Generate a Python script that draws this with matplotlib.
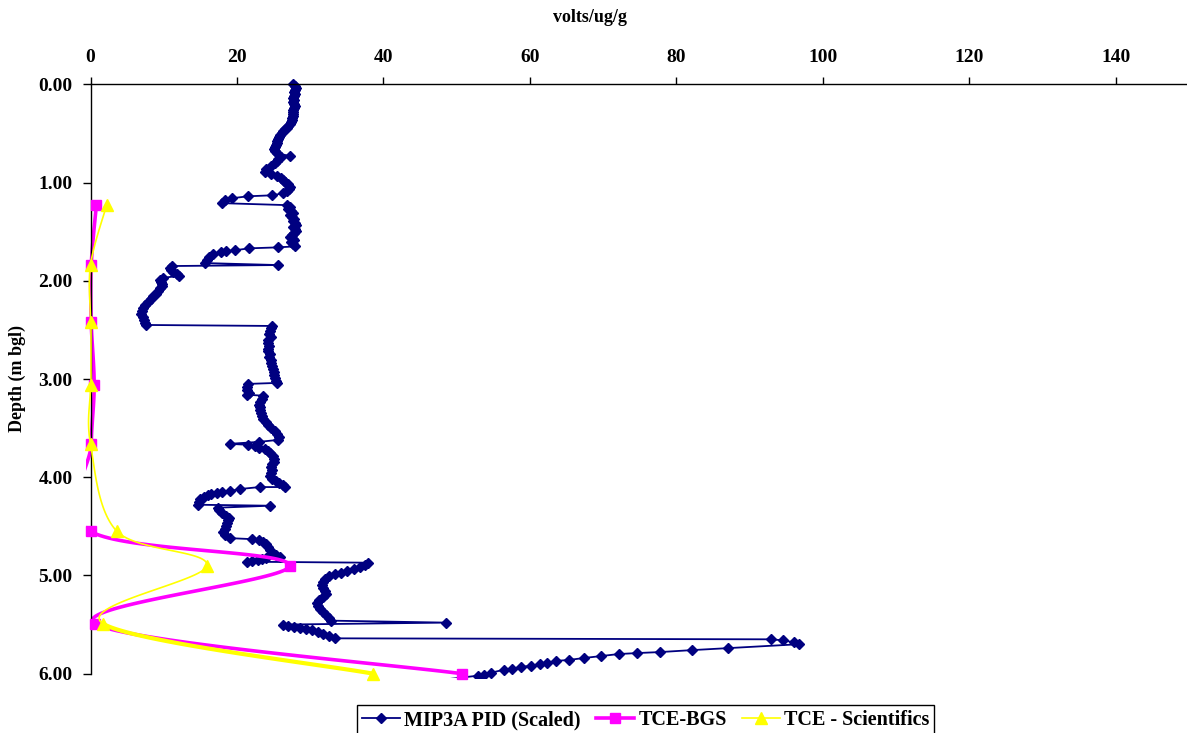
import numpy as np
import matplotlib
matplotlib.use("Agg")
import matplotlib.pyplot as plt
from matplotlib.lines import Line2D
from matplotlib.patches import Rectangle

# MIP3A PID trace (scaled) : value, depth (m bgl)
mip_value = [
    27.6, 27.9, 28.0, 27.9, 27.8, 27.9, 27.8, 27.7, 27.8, 27.7, 27.8, 27.9, 27.8, 27.7,
    27.6, 27.7, 27.6, 27.5, 27.5, 27.4, 27.2, 27.0, 26.8, 26.6, 26.3, 26.1, 25.9, 25.8,
    25.6, 25.5, 25.4, 25.3, 25.2, 25.1, 25.2, 25.4, 27.2, 26.0, 25.6, 25.5, 25.2, 24.7,
    24.0, 23.8, 24.6, 25.4, 26.0, 26.3, 26.6, 26.9, 27.0, 27.2, 27.1, 26.8, 26.3, 24.8,
    21.5, 19.3, 18.4, 18.0,
    26.8, 27.3, 27.0, 27.4, 27.6, 27.2, 27.5, 27.8, 27.6, 27.9, 28.0, 27.7, 27.9, 28.1,
    27.8, 27.5, 27.3, 27.6, 27.8, 27.4, 27.6, 27.9,
    25.6, 21.6, 19.7, 18.5, 17.8, 16.7, 16.2, 15.9, 15.7, 25.6,
    11.1, 10.8, 11.0, 11.3, 11.8, 12.1, 9.9, 9.5, 9.6, 9.8, 9.7, 9.5, 9.2, 9.0, 8.6, 8.3,
    7.9, 7.5, 7.2, 7.0, 6.9, 7.1, 7.3, 7.5, 7.6,
    24.8, 24.6, 24.5, 24.4, 24.6, 24.3, 24.2, 24.4, 24.2, 24.3, 24.5, 24.4, 24.6, 24.7,
    24.8, 24.9, 25.0, 25.1, 25.2, 25.3, 25.4,
    21.5, 21.3, 21.4, 21.6, 21.3,
    23.6, 23.4, 23.2, 23.0, 23.1, 23.2, 23.3, 23.4, 23.6, 23.9, 24.3, 24.7, 25.2, 25.5,
    25.8, 25.6, 23.0, 19.0, 21.5, 22.4, 23.0, 23.8,
    24.2, 24.5, 24.9, 25.1, 25.0, 24.8, 24.7, 24.8, 24.6, 24.5, 24.8, 25.3, 25.8, 26.3, 26.6,
    23.1, 20.4, 19.1, 17.9, 17.3, 16.5, 16.0, 15.5, 15.0, 14.8, 14.7, 24.5,
    17.4, 17.6, 18.0, 18.5, 18.9, 18.8, 18.6, 18.5, 18.3, 18.1, 18.4, 19.0,
    22.0, 23.0, 23.6, 23.9, 24.2, 24.5, 24.8, 25.3, 25.9,
    24.0, 23.4, 22.9, 22.0, 21.3,
    37.9, 37.5, 36.8, 36.0, 35.0, 34.2, 33.4, 32.6, 32.0, 31.7, 31.6, 31.8, 32.0, 32.1,
    31.8, 31.2, 30.9, 31.1, 31.4, 31.8, 32.1, 32.5, 32.9,
    48.5, 26.3, 27.0, 27.8, 28.6, 29.4, 30.2, 31.0, 31.8, 32.6, 33.4,
    92.9, 94.5, 96.0, 96.7,
    87.0, 82.1, 77.7, 74.6, 72.1, 69.7, 67.4, 65.3, 63.5, 62.3, 61.4, 60.1, 58.8, 57.5,
    56.4, 54.7, 53.7, 52.9, 46.0,
]
mip_depth = [
    0.00, 0.02, 0.04, 0.06, 0.08, 0.10, 0.12, 0.14, 0.16, 0.18, 0.20, 0.22, 0.24, 0.26,
    0.28, 0.30, 0.32, 0.34, 0.36, 0.38, 0.40, 0.42, 0.44, 0.46, 0.48, 0.50, 0.52, 0.54,
    0.56, 0.58, 0.60, 0.62, 0.64, 0.66, 0.68, 0.70, 0.73, 0.74, 0.76, 0.78, 0.80, 0.83,
    0.86, 0.89, 0.91, 0.93, 0.95, 0.97, 0.99, 1.01, 1.03, 1.05, 1.07, 1.09, 1.11, 1.13,
    1.14, 1.16, 1.18, 1.21,
    1.23, 1.25, 1.27, 1.29, 1.31, 1.33, 1.35, 1.37, 1.39, 1.41, 1.43, 1.45, 1.47, 1.49,
    1.51, 1.53, 1.55, 1.57, 1.59, 1.61, 1.63, 1.65,
    1.66, 1.67, 1.69, 1.70, 1.71, 1.73, 1.76, 1.79, 1.82, 1.84,
    1.85, 1.87, 1.89, 1.91, 1.93, 1.95, 1.97, 1.99, 2.01, 2.03, 2.05, 2.07, 2.10, 2.13,
    2.16, 2.19, 2.22, 2.25, 2.28, 2.31, 2.34, 2.37, 2.40, 2.43, 2.45,
    2.46, 2.48, 2.51, 2.54, 2.57, 2.60, 2.63, 2.66, 2.69, 2.72, 2.75, 2.78, 2.81, 2.84,
    2.87, 2.90, 2.93, 2.96, 2.99, 3.02, 3.04,
    3.05, 3.08, 3.11, 3.14, 3.16,
    3.17, 3.20, 3.23, 3.26, 3.29, 3.32, 3.35, 3.38, 3.41, 3.44, 3.47, 3.50, 3.53, 3.56,
    3.59, 3.62, 3.64, 3.66, 3.67, 3.68, 3.70, 3.71,
    3.73, 3.75, 3.78, 3.81, 3.84, 3.87, 3.90, 3.93, 3.96, 3.99, 4.02, 4.04, 4.06, 4.08, 4.10,
    4.10, 4.12, 4.14, 4.15, 4.16, 4.17, 4.18, 4.20, 4.22, 4.25, 4.28, 4.29,
    4.31, 4.33, 4.36, 4.39, 4.41, 4.44, 4.47, 4.50, 4.53, 4.56, 4.59, 4.62,
    4.63, 4.64, 4.66, 4.68, 4.71, 4.74, 4.77, 4.79, 4.81,
    4.82, 4.83, 4.84, 4.85, 4.86,
    4.87, 4.89, 4.91, 4.93, 4.95, 4.97, 4.99, 5.01, 5.04, 5.07, 5.10, 5.13, 5.16, 5.19,
    5.22, 5.25, 5.28, 5.31, 5.34, 5.37, 5.40, 5.43, 5.46,
    5.48, 5.50, 5.51, 5.52, 5.53, 5.55, 5.56, 5.58, 5.60, 5.62, 5.64,
    5.65, 5.66, 5.68, 5.70,
    5.74, 5.76, 5.78, 5.79, 5.80, 5.82, 5.84, 5.86, 5.87, 5.89, 5.90, 5.92, 5.93, 5.95,
    5.96, 5.99, 6.01, 6.02, 6.08,
]

# Laboratory TCE results (ug/g)
bgs_value = [0.8, 0.1, 0.1, 0.5, 0.1, 0.0, 27.2, 0.6, 50.7]
bgs_depth = [1.23, 1.84, 2.42, 3.06, 3.66, 4.55, 4.90, 5.49, 6.00]
sci_value = [2.2, 0.0, 0.0, 0.0, 0.0, 3.6, 15.9, 1.7, 38.6]
sci_depth = [1.23, 1.84, 2.42, 3.06, 3.66, 4.55, 4.90, 5.49, 6.00]

x_ticks = [0, 20, 40, 60, 80, 100, 120, 140]
y_ticks = [0, 1, 2, 3, 4, 5, 6]

NAVY = "#000080"
MAGENTA = "#FF00FF"
YELLOW = "#FFFF00"


def smooth_curve(xs, ys, steps=40):
    """Catmull-Rom style smoothed path through the points (one array per segment)."""
    pts = np.column_stack([xs, ys]).astype(float)
    n = len(pts)
    segs = []
    t = np.linspace(0, 1, steps)[:, None]
    for i in range(n - 1):
        p0 = pts[i - 1] if i > 0 else pts[i]
        p1 = pts[i]
        p2 = pts[i + 1]
        p3 = pts[i + 2] if i + 2 < n else pts[i + 1]
        c1 = p1 + (p2 - p0) / 6.0
        c2 = p2 - (p3 - p1) / 6.0
        b = ((1 - t) ** 3) * p1 + 3 * ((1 - t) ** 2) * t * c1 + 3 * (1 - t) * t ** 2 * c2 + t ** 3 * p2
        segs.append(b)
    return segs


plt.rcParams["font.family"] = ["Liberation Serif", "DejaVu Serif"]
plt.rcParams["font.weight"] = "bold"

fig = plt.figure(figsize=(11.87, 7.33), dpi=100)
ax = fig.add_axes([90.5 / 1187, 1 - 673.7 / 733, (1189.2 - 90.5) / 1187, (673.7 - 84.3) / 733])

ax.set_xlim(0, 150)
ax.set_ylim(6.0, 0.0)


def plot_area_clip():
    # plot-area clipping, with a small margin outside the axes
    return Rectangle((-0.6, -0.5), 160, 6.545, transform=ax.transData)


# PID trace
mip_line, = ax.plot(mip_value, mip_depth, color=NAVY, lw=1.3, marker="D", ms=5.6,
                    mec=NAVY, mfc=NAVY, zorder=3,
                    markevery=list(range(len(mip_value) - 1)))
mip_line.set_clip_path(plot_area_clip())

# TCE-BGS smoothed line
for seg in smooth_curve(bgs_value, bgs_depth):
    ln, = ax.plot(seg[:, 0], seg[:, 1], color=MAGENTA, lw=2.6, zorder=4,
                  solid_capstyle="round")
    ln.set_clip_path(plot_area_clip())
ax.plot(bgs_value, bgs_depth, ls="none", marker="s", ms=7.2, color=MAGENTA,
        clip_on=False, zorder=5)

# TCE - Scientifics smoothed line (final segment drawn heavier)
sci_segs = smooth_curve(sci_value, sci_depth)
for k, seg in enumerate(sci_segs):
    ln, = ax.plot(seg[:, 0], seg[:, 1], color=YELLOW,
                  lw=(3.0 if k == len(sci_segs) - 1 else 1.2),
                  zorder=6, solid_capstyle="round")
    ln.set_clip_path(plot_area_clip())
ax.plot(sci_value, sci_depth, ls="none", marker="^", ms=8.5, color=YELLOW,
        clip_on=False, zorder=7)

# Axes styling: x axis on top, only left/top axis lines
ax.xaxis.tick_top()
ax.xaxis.set_label_position("top")
ax.set_xticks(x_ticks)
ax.set_yticks(y_ticks)
ax.set_yticklabels([f"{v:.2f}" for v in y_ticks])
for side in ("right", "bottom"):
    ax.spines[side].set_visible(False)
for side in ("left", "top"):
    ax.spines[side].set_linewidth(1.0)
    ax.spines[side].set_color("black")
    ax.spines[side].set_zorder(4.5)
ax.tick_params(axis="x", which="both", direction="out", length=5, width=1, pad=8,
               labelsize=14, top=True, bottom=False)
ax.tick_params(axis="y", which="both", direction="out", length=6, width=1, pad=7,
               labelsize=14)
for lab in ax.get_xticklabels() + ax.get_yticklabels():
    lab.set_fontweight("bold")

fig.text(590 / 1187, 1 - 17 / 733, "volts/ug/g", ha="center", va="center",
         fontsize=13, fontweight="bold")
fig.text(17 / 1187, 1 - 379 / 733, "Depth (m bgl)", ha="center", va="center",
         rotation=90, fontsize=13, fontweight="bold")

handles = [
    Line2D([], [], color=NAVY, lw=1.3, marker="D", ms=5.6),
    Line2D([], [], color=MAGENTA, lw=2.6, marker="s", ms=7.2),
    Line2D([], [], color=YELLOW, lw=1.2, marker="^", ms=8.5),
]
labels = ["MIP3A PID (Scaled)", "TCE-BGS", "TCE - Scientifics"]
leg = fig.legend(handles, labels, loc="upper left",
                 bbox_to_anchor=(357 / 1187, 1 - 705 / 733), ncol=3,
                 frameon=True, fancybox=False, edgecolor="black", framealpha=1,
                 prop={"size": 14.5, "weight": "bold"}, handlelength=1.9,
                 handletextpad=0.2, columnspacing=0.75, borderpad=0.25,
                 borderaxespad=0, numpoints=1)
leg.get_frame().set_linewidth(1.0)

fig.savefig("out.png", dpi=100)
